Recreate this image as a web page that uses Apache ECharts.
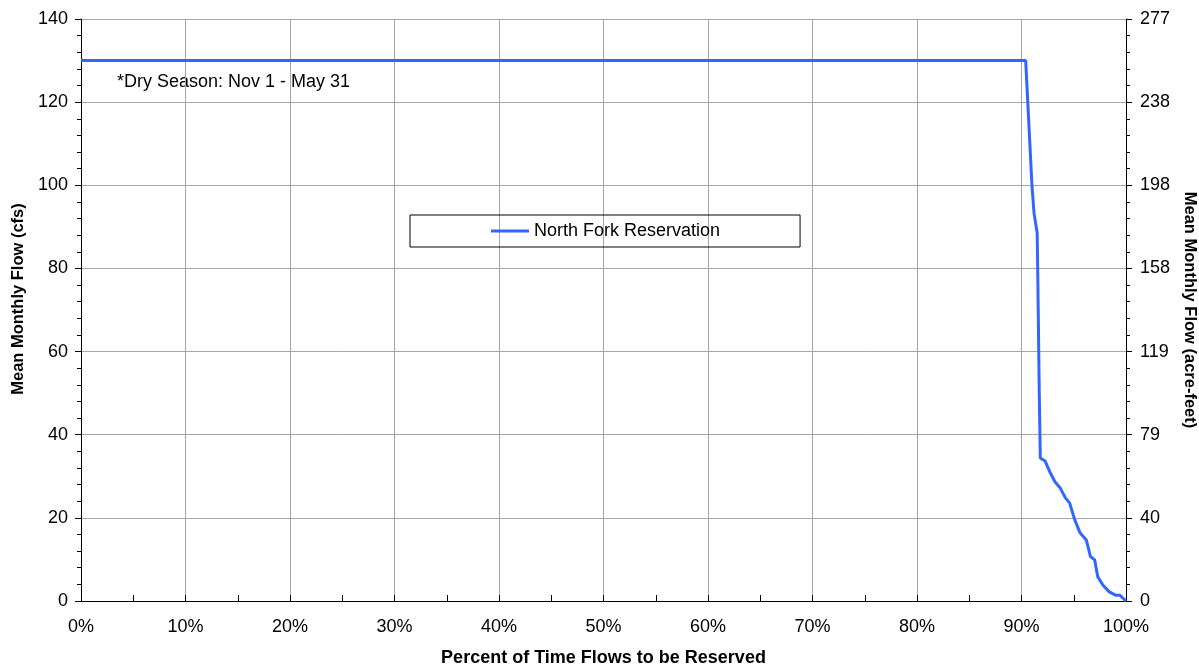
<!DOCTYPE html>
<html>
<head>
<meta charset="utf-8">
<script src="https://cdn.jsdelivr.net/npm/echarts@6/dist/echarts.min.js"></script>
<style>html,body{margin:0;padding:0;background:#fff;overflow:hidden}#c{width:1199px;height:669px}</style>
</head>
<body>
<div id="c"></div>
<script>
// Percent of time (x) and mean monthly flow in cfs (y)
const pctTime = [0, 90.4, 90.6, 91.0, 91.2, 91.5, 91.55, 91.7, 91.8, 92.25, 92.7, 93.2, 93.7, 94.2, 94.6, 95.1, 95.6, 96.2, 96.6, 97.0, 97.3, 97.8, 98.4, 99.0, 99.4, 100];
const flowCfs = [130, 130, 120, 100, 93.3, 88.5, 80, 50, 34.4, 33.7, 31.1, 28.7, 27.2, 24.8, 23.6, 19.5, 16.4, 14.7, 10.7, 9.9, 5.8, 3.8, 2.2, 1.4, 1.4, 0];
const leftTicks = [0, 20, 40, 60, 80, 100, 120, 140];
const rightTickLabels = ['0', '40', '79', '119', '158', '198', '238', '277'];
const seriesName = 'North Fork Reservation';
const note = '*Dry Season: Nov 1 - May 31';

const FONT = 'Liberation Sans, Arial, sans-serif';
const chart = echarts.init(document.getElementById('c'));
const gridColor = '#a6a6a6';
const axisCommon = {
  axisLine: {show: true, lineStyle: {color: '#000', width: 1}},
  axisLabel: {color: '#000', fontSize: 18, fontFamily: FONT},
  nameTextStyle: {color: '#000', fontSize: 16.5, fontWeight: 'bold', fontFamily: FONT}
};
chart.setOption({
  animation: false,
  backgroundColor: '#fff',
  grid: {left: 81, right: 73, top: 19, bottom: 68, containLabel: false, outerBoundsMode: 'none'},
  legend: {
    left: 410, top: 215,
    padding: [7, 80, 7, 81],
    borderColor: '#000', borderWidth: 1,
    itemWidth: 38, itemHeight: 3, icon: 'rect',
    textStyle: {color: '#000', fontSize: 18, fontFamily: FONT},
    data: [seriesName]
  },
  xAxis: Object.assign({}, axisCommon, {
    type: 'value', min: 0, max: 100, interval: 10,
    name: 'Percent of Time Flows to be Reserved', nameLocation: 'middle', nameGap: 48,
    nameTextStyle: {color: '#000', fontSize: 18, fontWeight: 'bold', fontFamily: FONT},
    axisLabel: Object.assign({}, axisCommon.axisLabel, {formatter: '{value}%', margin: 17}),
    axisTick: {show: true, inside: true, length: 6, lineStyle: {color: '#000'}},
    minorTick: {show: true, splitNumber: 2, length: 6, lineStyle: {color: '#000'}},
    splitLine: {show: true, lineStyle: {color: gridColor, width: 1}}
  }),
  yAxis: [
    Object.assign({}, axisCommon, {
      type: 'value', min: leftTicks[0], max: leftTicks[leftTicks.length - 1], interval: 20,
      name: 'Mean Monthly Flow (cfs)', nameLocation: 'middle', nameGap: 54, nameRotate: 90,
      nameTextStyle: {color: '#000', fontSize: 16.5, fontWeight: 'bold', fontFamily: FONT, padding: [0, 0, 0, 22]},
      axisLabel: Object.assign({}, axisCommon.axisLabel, {margin: 13}),
      axisTick: {show: true, inside: false, length: 6, lineStyle: {color: '#000'}},
      minorTick: {show: true, splitNumber: 5, length: 4, lineStyle: {color: '#000'}},
      splitLine: {show: true, lineStyle: {color: gridColor, width: 1}}
    }),
    Object.assign({}, axisCommon, {
      type: 'value', position: 'right', min: leftTicks[0], max: leftTicks[leftTicks.length - 1], interval: 20,
      name: 'Mean Monthly Flow (acre-feet)', nameLocation: 'middle', nameGap: 55, nameRotate: -90,
      axisLabel: Object.assign({}, axisCommon.axisLabel, {margin: 14,
        formatter: function (v) { const i = leftTicks.indexOf(v); return i >= 0 ? rightTickLabels[i] : ''; }}),
      axisTick: {show: true, inside: false, length: 6, lineStyle: {color: '#000'}},
      minorTick: {show: true, splitNumber: 5, length: 4, lineStyle: {color: '#000'}},
      splitLine: {show: false}
    })
  ],
  graphic: [{
    type: 'text', left: 117, top: 73,
    style: {text: note, fill: '#000', font: '18px ' + FONT}
  }],
  series: [{
    name: seriesName, type: 'line', yAxisIndex: 0,
    data: pctTime.map((x, i) => [x, flowCfs[i]]),
    showSymbol: false, symbol: 'none',
    lineStyle: {color: '#3366ff', width: 3},
    itemStyle: {color: '#3366ff'},
    z: 5
  }]
});
</script>
</body>
</html>
